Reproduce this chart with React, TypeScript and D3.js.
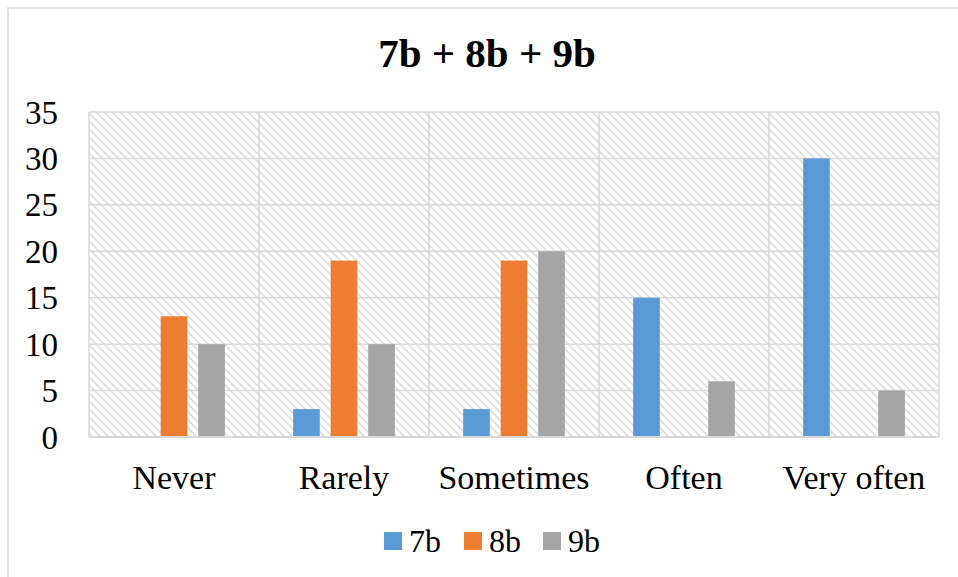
import React from "react";
import * as d3 from "d3";

const categories = ["Never", "Rarely", "Sometimes", "Often", "Very often"];
const seriesNames = ["7b", "8b", "9b"];
const values7b = [0, 3, 3, 15, 30];
const values8b = [13, 19, 19, 0, 0];
const values9b = [10, 10, 20, 6, 5];
const yTicks = [0, 5, 10, 15, 20, 25, 30, 35];
const colors = ["#5B9BD5", "#ED7D31", "#A5A5A5"];

const W = 958;
const H = 577;
const plot = { left: 89, top: 112, right: 939, bottom: 437 };
const FONT = '"Liberation Serif", "DejaVu Serif", serif';

export default function App() {
  const series = [values7b, values8b, values9b];
  const x0 = d3.scaleBand<string>().domain(categories).range([plot.left, plot.right]).padding(0);
  const x1 = d3
    .scaleBand<string>()
    .domain(seriesNames)
    .range([0, x0.bandwidth()])
    .paddingInner(0.29)
    .paddingOuter(0.91);
  const y = d3.scaleLinear().domain([0, 35]).range([plot.bottom, plot.top]);

  const grid = "#d9d9d9";
  const legendX = [384, 464, 543];

  return (
    <svg
      width={W}
      height={H}
      style={{ position: "absolute", left: 0, top: 0, background: "#fff", fontFamily: FONT }}
    >
      <defs>
        <pattern id="hatch" width="8" height="8" patternUnits="userSpaceOnUse">
          <rect width="8" height="8" fill="#fff" />
          <path d="M-2,-2 L10,10 M-2,6 L2,10 M6,-2 L10,2" stroke="#e0e0e0" strokeWidth="1.8" />
        </pattern>
      </defs>
      <rect x={8} y={8} width={W + 20} height={H + 20} fill="#fff" stroke="#d9d9d9" strokeWidth={1.5} />
      <text x={487} y={67} textAnchor="middle" fontSize={41} fontWeight="bold" fill="#000">
        7b + 8b + 9b
      </text>
      <rect
        x={plot.left}
        y={plot.top}
        width={plot.right - plot.left}
        height={plot.bottom - plot.top}
        fill="url(#hatch)"
      />
      {yTicks.map((t) => (
        <line key={"h" + t} x1={plot.left} x2={plot.right} y1={y(t)} y2={y(t)} stroke={grid} strokeWidth={1.5} />
      ))}
      {categories.map((c) => (
        <line
          key={"v" + c}
          x1={x0(c)!}
          x2={x0(c)!}
          y1={plot.top}
          y2={plot.bottom}
          stroke={grid}
          strokeWidth={1.5}
        />
      ))}
      <line x1={plot.right} x2={plot.right} y1={plot.top} y2={plot.bottom} stroke={grid} strokeWidth={1.5} />
      {yTicks.map((t) => (
        <text key={"t" + t} x={58} y={y(t)} dy="0.35em" textAnchor="end" fontSize={33} fill="#000">
          {t}
        </text>
      ))}
      {categories.map((c, i) =>
        series.map((s, j) =>
          s[i] > 0 ? (
            <rect
              key={c + j}
              x={x0(c)! + x1(seriesNames[j])!}
              y={y(s[i])}
              width={x1.bandwidth()}
              height={y(0) - y(s[i])}
              fill={colors[j]}
            />
          ) : null
        )
      )}
      <line x1={plot.left} x2={plot.right} y1={plot.bottom} y2={plot.bottom} stroke={grid} strokeWidth={2} />
      {categories.map((c) => (
        <text key={"c" + c} x={x0(c)! + x0.bandwidth() / 2} y={489} textAnchor="middle" fontSize={34} fill="#000">
          {c}
        </text>
      ))}
      {seriesNames.map((s, j) => (
        <g key={"l" + s}>
          <rect x={legendX[j]} y={532} width={18} height={18} fill={colors[j]} />
          <text x={legendX[j] + 25} y={552} fontSize={32} fill="#000">
            {s}
          </text>
        </g>
      ))}
    </svg>
  );
}
